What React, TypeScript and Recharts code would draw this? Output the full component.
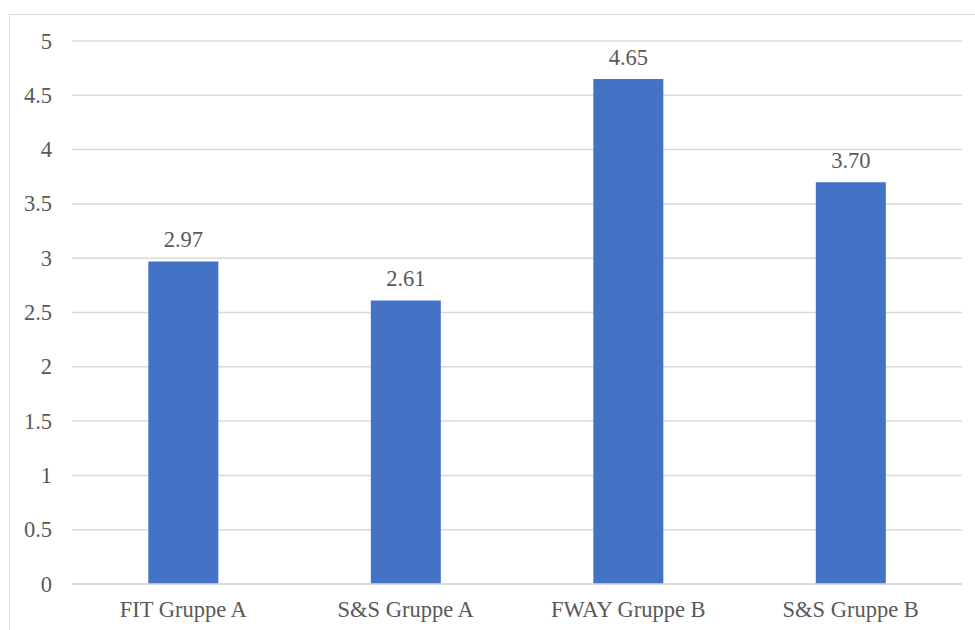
import React from "react";
import { BarChart, Bar, XAxis, YAxis, CartesianGrid, LabelList } from "recharts";

// Mean scores per group
const categories: string[] = ["FIT Gruppe A", "S&S Gruppe A", "FWAY Gruppe B", "S&S Gruppe B"];
const scores: number[] = [2.97, 2.61, 4.65, 3.7];
const yTicks: number[] = [0, 0.5, 1, 1.5, 2, 2.5, 3, 3.5, 4, 4.5, 5];

const data = categories.map((name, i) => ({ name, score: scores[i] }));

const FONT = "'Liberation Serif', 'Times New Roman', Times, serif";
const TEXT_COLOR = "#595959";
const GRID_COLOR = "#d9d9d9";
const BAR_COLOR = "#4472C4";
const FONT_SIZE = 22.5;

const YTick = (props: any) => {
  const { x, y, payload } = props;
  return (
    <text
      x={x}
      y={y}
      textAnchor="end"
      dominantBaseline="central"
      style={{ fontFamily: FONT, fontSize: FONT_SIZE, fill: TEXT_COLOR }}
    >
      {String(payload.value)}
    </text>
  );
};

const XTick = (props: any) => {
  const { x, y, payload } = props;
  return (
    <text
      x={x}
      y={y}
      textAnchor="middle"
      dominantBaseline="central"
      style={{ fontFamily: FONT, fontSize: FONT_SIZE, fill: TEXT_COLOR }}
    >
      {payload.value}
    </text>
  );
};

const ValueLabel = (props: any) => {
  const { x, y, width, value } = props;
  return (
    <text
      x={Number(x) + Number(width) / 2}
      y={Number(y) - 22}
      textAnchor="middle"
      dominantBaseline="central"
      style={{ fontFamily: FONT, fontSize: FONT_SIZE, fill: TEXT_COLOR }}
    >
      {Number(value).toFixed(2)}
    </text>
  );
};

export default function App() {
  return (
    <div
      style={{
        position: "fixed",
        left: 0,
        top: 0,
        width: 975,
        height: 630,
        overflow: "hidden",
        background: "#ffffff",
      }}
    >
      {/* chart frame */}
      <div
        style={{
          position: "absolute",
          left: 9,
          top: 14,
          width: 1000,
          height: 700,
          border: `1px solid ${GRID_COLOR}`,
        }}
      />
      <div style={{ position: "absolute", left: 0, top: 0 }}>
        <BarChart
          width={975}
          height={630}
          data={data}
          margin={{ top: 41, right: 13, bottom: 16, left: 12 }}
          barCategoryGap="34.3%"
        >
          <CartesianGrid vertical={false} stroke={GRID_COLOR} strokeWidth={1.5} />
          <XAxis
            dataKey="name"
            height={30}
            tickLine={false}
            axisLine={{ stroke: GRID_COLOR, strokeWidth: 1.5 }}
            tickSize={0}
            tickMargin={25}
            tick={<XTick />}
            interval={0}
          />
          <YAxis
            width={60}
            domain={[0, 5]}
            ticks={yTicks}
            tickLine={false}
            axisLine={false}
            tickSize={0}
            tickMargin={20}
            tick={<YTick />}
          />
          <Bar dataKey="score" fill={BAR_COLOR} isAnimationActive={false}>
            <LabelList dataKey="score" content={<ValueLabel />} />
          </Bar>
        </BarChart>
      </div>
    </div>
  );
}
